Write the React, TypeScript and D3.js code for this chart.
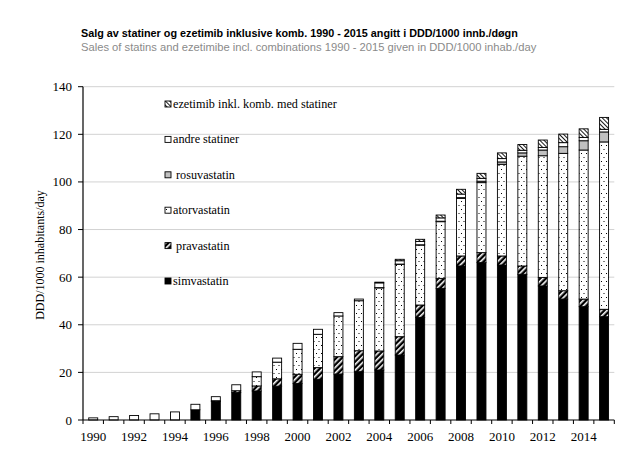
import React from "react";
import * as d3 from "d3";

const years = ["1990","1991","1992","1993","1994","1995","1996","1997","1998","1999","2000","2001","2002","2003","2004","2005","2006","2007","2008","2009","2010","2011","2012","2013","2014","2015"];
const simvastatin = [0,0,0,0,0,4.3,7.8,11.5,12.2,14.2,15.3,17.1,19.3,20.3,21.0,27.3,43.1,55.3,64.7,66.1,65.1,61.2,56.3,50.8,47.6,43.4];
const pravastatin = [0,0,0,0,0,0,0.3,0.8,2.1,3.1,3.9,4.9,7.3,8.8,8.0,7.7,5.2,4.2,4.2,4.2,3.8,3.5,3.6,3.5,3.2,3.1];
const atorvastatin = [0,0,0,0,0,0,0,0,3.9,7.0,10.5,14.0,17.1,21.0,26.5,30.4,25.2,23.8,24.2,29.4,38.5,46.1,51.1,57.7,62.6,70.3];
const rosuvastatin = [0,0,0,0,0,0,0,0,0,0,0,0,0,0,0.1,0.1,0.1,0.2,0.3,0.6,1.0,1.4,2.4,2.8,3.9,4.2];
const andreStatiner = [0.9,1.4,1.9,2.6,3.4,2.3,1.7,2.5,2.0,1.7,2.5,2.1,1.4,0.7,2.0,1.4,1.4,1.4,1.5,1.2,1.4,1.1,1.1,1.7,1.4,1.1];
const ezetimib = [0,0,0,0,0,0,0,0,0,0,0,0,0,0,0.3,0.6,0.9,1.2,2.0,2.1,2.4,2.4,3.1,3.6,3.6,5.0];

const yTicks = [0,20,40,60,80,100,120,140];
const xLabels = ["1990","1992","1994","1996","1998","2000","2002","2004","2006","2008","2010","2012","2014"];

const title = "Salg av statiner og ezetimib inklusive komb. 1990 - 2015 angitt i DDD/1000 innb./døgn";
const subtitle = "Sales of statins and ezetimibe incl. combinations 1990 - 2015 given in DDD/1000 inhab./day";
const yLabel = "DDD/1000 inhabitants/day";

const keys = ["simva","prava","ator","rosu","andre","eze"];
const fills: Record<string,string> = {
  simva: "#000",
  prava: "url(#pat-prava)",
  ator: "url(#pat-ator)",
  rosu: "#c0c0c0",
  andre: "#fff",
  eze: "url(#pat-eze)",
};
const legendItems = [
  { key: "eze", label: "ezetimib inkl. komb. med statiner" },
  { key: "andre", label: "andre statiner" },
  { key: "rosu", label: " rosuvastatin" },
  { key: "ator", label: "atorvastatin" },
  { key: "prava", label: " pravastatin" },
  { key: "simva", label: "simvastatin" },
];

export default function App() {
  const W = 635, H = 473;
  const x0 = 83, x1 = 614.3;
  const x = d3.scaleBand<string>().domain(years).range([x0, x1]).paddingInner(0.56).paddingOuter(0.28);
  const y = d3.scaleLinear().domain([0, 140]).range([420, 86.7]);
  const table = years.map((yr, i) => ({
    year: yr,
    simva: simvastatin[i],
    prava: pravastatin[i],
    ator: atorvastatin[i],
    rosu: rosuvastatin[i],
    andre: andreStatiner[i],
    eze: ezetimib[i],
  }));
  const stacked = d3.stack<any>().keys(keys)(table);
  const step = x.step();
  const bw = x.bandwidth();
  const boundaries = years.map((yr) => x(yr)! + bw / 2 - step / 2).concat([x(years[years.length - 1])! + bw / 2 + step / 2]);
  const serif = "'Liberation Serif', 'Times New Roman', serif";
  const sans = "'Liberation Sans', Arial, sans-serif";

  return (
    <div style={{ position: "absolute", left: 0, top: 0 }}>
      <svg width={W} height={H} style={{ display: "block", background: "#fff" }}>
        <defs>
          <pattern id="pat-prava" width="4" height="4" patternUnits="userSpaceOnUse" patternTransform="rotate(45)">
            <rect width="4" height="4" fill="#000" />
            <rect x="0" y="0" width="1.6" height="4" fill="#fff" />
          </pattern>
          <pattern id="pat-eze" width="3" height="3" patternUnits="userSpaceOnUse" patternTransform="rotate(-45)">
            <rect width="3" height="3" fill="#fff" />
            <rect x="0" y="0" width="0.9" height="3" fill="#000" />
          </pattern>
          <pattern id="pat-ator" width="5" height="8" patternUnits="userSpaceOnUse">
            <rect width="5" height="8" fill="#fff" />
            <rect x="1" y="1" width="1" height="1" fill="#000" />
            <rect x="3.5" y="5" width="1" height="1" fill="#000" />
          </pattern>
        </defs>

        <text x={81} y={36.5} fontFamily={sans} fontWeight="bold" fontSize={10.8} fill="#000">{title}</text>
        <text x={81} y={51} fontFamily={sans} fontSize={11.2} fill="#8a8a8a">{subtitle}</text>

        {yTicks.filter((t) => t > 0).map((t) => (
          <line key={"g" + t} x1={x0} x2={x1} y1={y(t)} y2={y(t)} stroke="#d2d2d2" strokeWidth={1} />
        ))}

        {stacked.map((s) => (
          <g key={s.key}>
            {s.map((d, i) => {
              const v = d[1] - d[0];
              if (v <= 0) return null;
              return (
                <rect key={i} x={x(years[i])} width={bw} y={y(d[1])} height={y(d[0]) - y(d[1])}
                  fill={fills[s.key]} stroke="#000" strokeWidth={0.9} />
              );
            })}
          </g>
        ))}

        <line x1={x0} x2={x0} y1={y(140)} y2={y(0)} stroke="#000" strokeWidth={1.2} />
        <line x1={x0} x2={x1} y1={y(0)} y2={y(0)} stroke="#000" strokeWidth={1.2} />
        {yTicks.map((t) => (
          <g key={"yt" + t}>
            <line x1={x0 - 5} x2={x0} y1={y(t)} y2={y(t)} stroke="#000" strokeWidth={1} />
            <text x={72} y={y(t) + 4.5} textAnchor="end" fontFamily={serif} fontSize={13}>{t}</text>
          </g>
        ))}
        {boundaries.map((b, i) => (
          <line key={"xt" + i} x1={b} x2={b} y1={y(0)} y2={y(0) + 4} stroke="#000" strokeWidth={1} />
        ))}
        {xLabels.map((l) => (
          <text key={"xl" + l} x={x(l)! + bw / 2} y={441} textAnchor="middle" fontFamily={serif} fontSize={13}>{l}</text>
        ))}
        <text transform={`translate(44,255) rotate(-90)`} textAnchor="middle" fontFamily={serif} fontSize={12}>{yLabel}</text>

        {legendItems.map((it, i) => {
          const cy = 104 + i * 35.4;
          return (
            <g key={"lg" + it.key}>
              <rect x={165} y={cy - 3} width={6} height={6} fill={fills[it.key]} stroke="#000" strokeWidth={0.9} />
              <text x={173} y={cy + 4} fontFamily={serif} fontSize={12.2} style={{ whiteSpace: "pre" }}>{it.label}</text>
            </g>
          );
        })}
      </svg>
    </div>
  );
}
